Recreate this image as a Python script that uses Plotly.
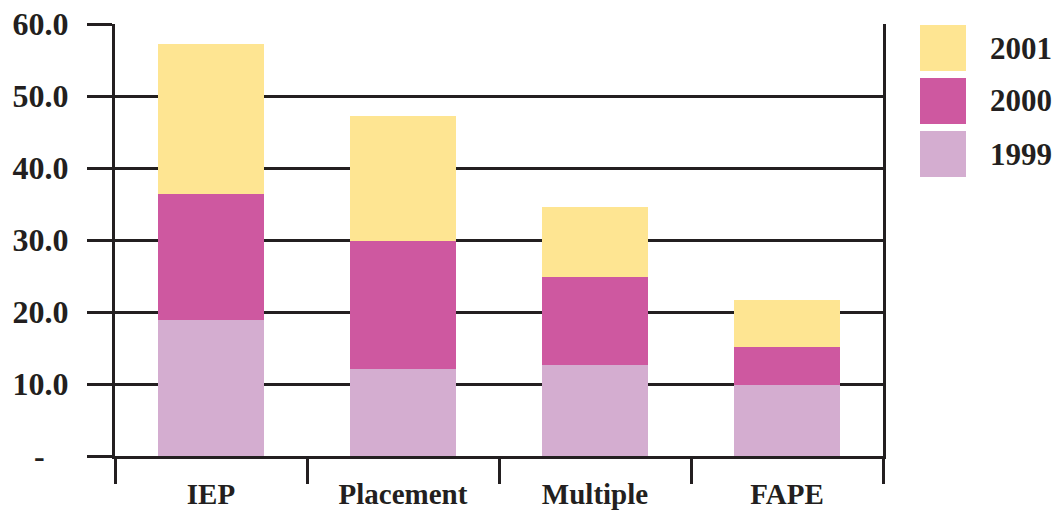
import plotly.graph_objects as go

# Stacked bar data by issue type
categories = ["IEP", "Placement", "Multiple", "FAPE"]
years = ["1999", "2000", "2001"]
values_1999 = [18.9, 12.1, 12.6, 9.9]
values_2000 = [17.5, 17.8, 12.3, 5.2]
values_2001 = [20.8, 17.3, 9.7, 6.6]
colors = {"1999": "#D4ADD0", "2000": "#CE58A0", "2001": "#FEE592"}

y_tickvals = [0, 10, 20, 30, 40, 50, 60]
y_ticktext = ["-\u00a0\u00a0\u00a0", "10.0", "20.0", "30.0", "40.0", "50.0", "60.0"]

INK = "#231F20"
FONT = "Liberation Serif"

series = {"1999": values_1999, "2000": values_2000, "2001": values_2001}

fig = go.Figure()
for yr in years:
    fig.add_trace(go.Bar(
        x=categories, y=series[yr], name=yr,
        marker=dict(color=colors[yr], line=dict(width=0)),
        width=0.55, showlegend=False,
    ))

# Legend drawn as large swatches with labels (top to bottom: 2001, 2000, 1999)
plot_h = 432.0
plot_w = 768.0
for i, yr in enumerate(reversed(years)):
    top_px = 25 + i * 53
    y1 = 1 - (top_px - 24) / plot_h
    y0 = 1 - (top_px + 46 - 24) / plot_h
    x0 = (920 - 115) / plot_w
    x1 = (966 - 115) / plot_w
    fig.add_shape(type="rect", xref="paper", yref="paper",
                  x0=x0, x1=x1, y0=y0, y1=y1,
                  fillcolor=colors[yr], line=dict(width=0))
    fig.add_annotation(xref="paper", yref="paper", x=(988 - 115) / plot_w,
                       y=(y0 + y1) / 2, text="<b>%s</b>" % yr, showarrow=False,
                       xanchor="left", yanchor="middle",
                       font=dict(family=FONT, size=31, color=INK))

fig.update_layout(
    barmode="stack",
    width=1055, height=511,
    margin=dict(l=115, r=172, t=24, b=55, autoexpand=False),
    paper_bgcolor="white", plot_bgcolor="white",
    font=dict(family=FONT, color=INK),
    xaxis=dict(
        type="category", tickson="boundaries", automargin=False,
        ticks="outside", ticklen=25, tickwidth=3, tickcolor=INK,
        ticklabelstandoff=10,
        showgrid=False, showline=True, linewidth=3, linecolor=INK,
        tickfont=dict(family=FONT, size=29, color=INK),
        tickprefix="<b>", ticksuffix="</b>",
        range=[-0.5, 3.5],
    ),
    yaxis=dict(
        range=[0, 60], tickvals=y_tickvals,
        ticktext=["<b>%s</b>" % t for t in y_ticktext],
        automargin=False,
        ticks="outside", ticklen=25, tickwidth=3, tickcolor=INK,
        ticklabelstandoff=12,
        showgrid=True, gridcolor=INK, gridwidth=3,
        showline=True, linewidth=3, linecolor=INK, mirror=True,
        zeroline=False,
        tickfont=dict(family=FONT, size=32, color=INK),
    ),
)

fig.write_html("out.html")
